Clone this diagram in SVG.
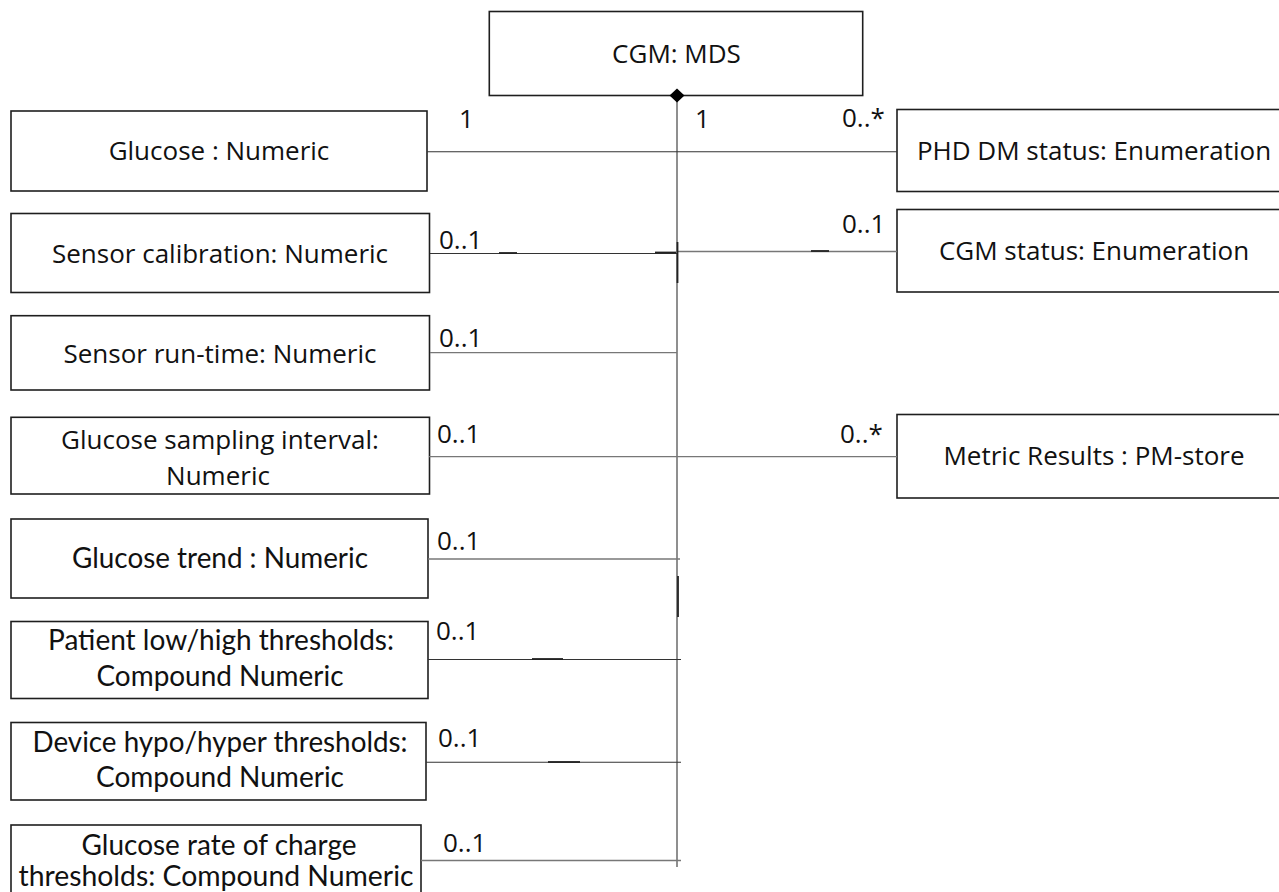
<svg xmlns="http://www.w3.org/2000/svg" width="1279" height="892" viewBox="0 0 1279 892">
<style>
  .box { fill: #ffffff; stroke: #1e1e1e; stroke-width: 1.6; }
  .t { font-family: "Open Sans", "Noto Sans", sans-serif; font-size: 26px; fill: #111; text-anchor: middle; }
  .c { font-family: Lato, "Open Sans", sans-serif; font-size: 28px; fill: #111; text-anchor: middle; }
  .m { font-family: "Open Sans", "Noto Sans", sans-serif; font-size: 26px; fill: #111; }
  .ln { stroke: #333; stroke-width: 1.1; fill: none; }
  .lg { stroke: #777; stroke-width: 1.3; fill: none; }
  .dash { stroke: #222; stroke-width: 1.8; fill: none; }
</style>
<rect width="1279" height="892" fill="#ffffff"/>

<g id="cgm-mds">
  <rect class="box" x="489.3" y="11.5" width="373.4" height="84"/>
  <text class="t" x="676.5" y="63">CGM: MDS</text>
</g>

<g id="glucose">
  <rect class="box" x="11" y="111" width="416" height="80"/>
  <text class="t" x="219" y="160">Glucose : Numeric</text>
</g>

<g id="sensor-calibration">
  <rect class="box" x="11" y="213.5" width="418.5" height="79"/>
  <text class="t" x="220" y="263">Sensor calibration: Numeric</text>
</g>

<g id="sensor-run-time">
  <rect class="box" x="11" y="315.7" width="418.5" height="74.3"/>
  <text class="t" x="220" y="363">Sensor run-time: Numeric</text>
</g>

<g id="glucose-sampling-interval">
  <rect class="box" x="11" y="417.3" width="418.5" height="76.7"/>
  <text class="t" x="220" y="449">Glucose sampling interval:</text>
  <text class="t" x="218" y="485">Numeric</text>
</g>

<g id="glucose-trend">
  <rect class="box" x="11" y="519" width="417" height="79"/>
  <text class="c" x="220" y="568" textLength="296" lengthAdjust="spacingAndGlyphs">Glucose trend : Numeric</text>
</g>

<g id="patient-thresholds">
  <rect class="box" x="11" y="621.5" width="417" height="77"/>
  <text class="c" x="221" y="650" textLength="346" lengthAdjust="spacingAndGlyphs">Patient low/high thresholds:</text>
  <text class="c" x="220" y="686" textLength="247" lengthAdjust="spacingAndGlyphs">Compound Numeric</text>
</g>

<g id="device-thresholds">
  <rect class="box" x="11" y="722.5" width="415" height="77.5"/>
  <text class="c" x="220" y="752" textLength="375" lengthAdjust="spacingAndGlyphs">Device hypo/hyper thresholds:</text>
  <text class="c" x="220" y="787" textLength="248" lengthAdjust="spacingAndGlyphs">Compound Numeric</text>
</g>

<g id="glucose-rate-thresholds">
  <rect class="box" x="11" y="825" width="410" height="80"/>
  <text class="c" x="219" y="855" textLength="275" lengthAdjust="spacingAndGlyphs">Glucose rate of charge</text>
  <text class="c" x="216" y="886" textLength="395" lengthAdjust="spacingAndGlyphs">thresholds: Compound Numeric</text>
</g>

<g id="phd-dm-status">
  <rect class="box" x="897" y="109.5" width="400" height="82"/>
  <text class="t" x="1094" y="160">PHD DM status: Enumeration</text>
</g>

<g id="cgm-status">
  <rect class="box" x="897" y="209.5" width="400" height="82.5"/>
  <text class="t" x="1094" y="260">CGM status: Enumeration</text>
</g>

<g id="metric-results">
  <rect class="box" x="897" y="414.5" width="400" height="83.5"/>
  <text class="t" x="1094" y="465">Metric Results : PM-store</text>
</g>

<g id="connectors">
  <line class="ln" x1="677" y1="96" x2="677" y2="867"/>
  <polygon points="677,88.5 684.5,95.5 677,102.5 669.5,95.5" fill="#000"/>
  <line class="ln" x1="427" y1="151.7" x2="897" y2="151.7"/>
  <line class="ln" x1="430" y1="253.5" x2="677" y2="253.5"/>
  <line class="lg" x1="677" y1="251.5" x2="897" y2="251.5"/>
  <line class="dash" x1="499" y1="253" x2="517" y2="253"/>
  <line class="dash" x1="655" y1="252.5" x2="676" y2="252.5"/>
  <line class="dash" x1="811" y1="251" x2="829" y2="251"/>
  <line class="dash" x1="677.5" y1="242" x2="677.5" y2="283"/>
  <line class="lg" x1="430" y1="352.7" x2="677" y2="352.7"/>
  <line class="lg" x1="429" y1="456.7" x2="897" y2="456.7"/>
  <line class="lg" x1="428" y1="559" x2="680" y2="559"/>
  <line class="dash" x1="678" y1="576" x2="678" y2="617"/>
  <line class="ln" x1="428" y1="659.5" x2="681" y2="659.5"/>
  <line class="dash" x1="532" y1="659" x2="563" y2="659"/>
  <line class="ln" x1="426" y1="762.3" x2="681" y2="762.3"/>
  <line class="dash" x1="548" y1="762" x2="580" y2="762"/>
  <line class="lg" x1="421" y1="860.5" x2="681" y2="860.5"/>
  <text class="m" x="459" y="128">1</text>
  <text class="m" x="695" y="128">1</text>
  <text class="m" x="842" y="127">0..*</text>
  <text class="m" x="439" y="249">0..1</text>
  <text class="m" x="842" y="233">0..1</text>
  <text class="m" x="439" y="347">0..1</text>
  <text class="m" x="437" y="443">0..1</text>
  <text class="m" x="840" y="443">0..*</text>
  <text class="m" x="437" y="550">0..1</text>
  <text class="m" x="436" y="640">0..1</text>
  <text class="m" x="438" y="747">0..1</text>
  <text class="m" x="443" y="852">0..1</text>
</g>
</svg>
